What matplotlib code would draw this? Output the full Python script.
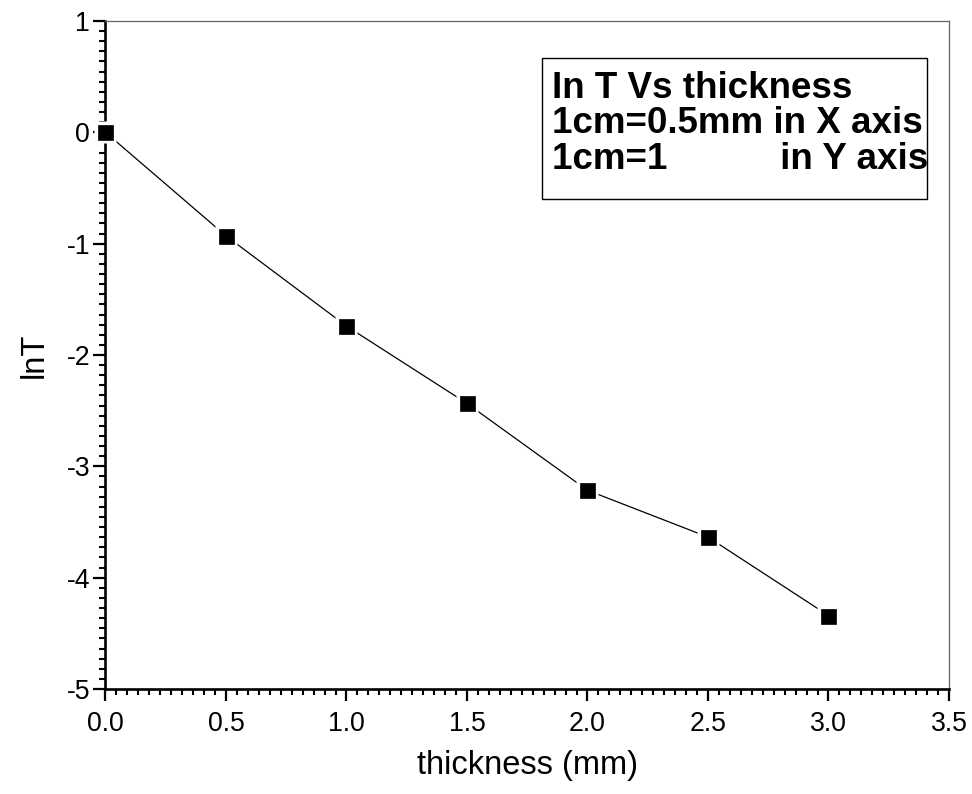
import matplotlib
matplotlib.use("Agg")
import matplotlib.pyplot as plt
from matplotlib.ticker import AutoMinorLocator
from matplotlib.patches import Rectangle

plt.rcParams['font.family'] = ['Liberation Sans', 'DejaVu Sans']

thickness = [0.0, 0.5, 1.0, 1.5, 2.0, 2.5, 3.0]
lnT = [0.0, -0.93, -1.74, -2.435, -3.215, -3.635, -4.34]
x_ticks = [0.0, 0.5, 1.0, 1.5, 2.0, 2.5, 3.0, 3.5]
y_ticks = [-5, -4, -3, -2, -1, 0, 1]
box_lines = ["In T Vs thickness", "1cm=0.5mm in X axis", "1cm=1           in Y axis"]

fig = plt.figure(figsize=(9.72, 7.94), dpi=100)
ax = fig.add_axes([0.1085, 0.1322, 0.8678, 0.8414])

ax.plot(thickness, lnT, color='black', lw=0.9, zorder=2)
ax.plot(thickness, lnT, ls='none', marker='s', ms=15.5, mfc='white', mec='none', zorder=3, clip_on=False)
ax.plot(thickness, lnT, ls='none', marker='s', ms=10.8, mfc='black', mec='black', mew=0.5, zorder=4, clip_on=False)

ax.set_xlim(0, 3.5)
ax.set_ylim(-5, 1)
ax.set_xticks(x_ticks)
ax.set_xticklabels([f"{v:.1f}" for v in x_ticks])
ax.set_yticks(y_ticks)
ax.set_yticklabels([str(v) for v in y_ticks])
ax.xaxis.set_minor_locator(AutoMinorLocator(11))
ax.yaxis.set_minor_locator(AutoMinorLocator(11))

for s in ['left', 'bottom']:
    ax.spines[s].set_linewidth(1.9)
    ax.spines[s].set_color('black')
for s in ['top', 'right']:
    ax.spines[s].set_linewidth(0.9)
    ax.spines[s].set_color('#666666')

ax.tick_params(which='major', direction='out', length=8.5, width=1.6, labelsize=19.2,
               top=False, right=False)
ax.tick_params(axis='x', which='major', pad=7)
ax.tick_params(axis='y', which='major', pad=2.5)
ax.tick_params(which='minor', direction='out', length=4.3, width=1.5, top=False, right=False)

ax.set_xlabel('thickness (mm)', fontsize=23.5, labelpad=10)
ax.set_ylabel('lnT', fontsize=23.5, labelpad=12)

ax.add_patch(Rectangle((0.518, 0.7335), 0.456, 0.211, transform=ax.transAxes,
                       fill=False, edgecolor='black', lw=1.0, zorder=5))
ybase = [0.8843, 0.8319, 0.778]
for t, yb in zip(box_lines, ybase):
    ax.text(0.5296, yb, t, transform=ax.transAxes, fontsize=26.5, fontweight='bold',
            va='baseline', ha='left', zorder=6)

fig.savefig('out.png', dpi=100)
